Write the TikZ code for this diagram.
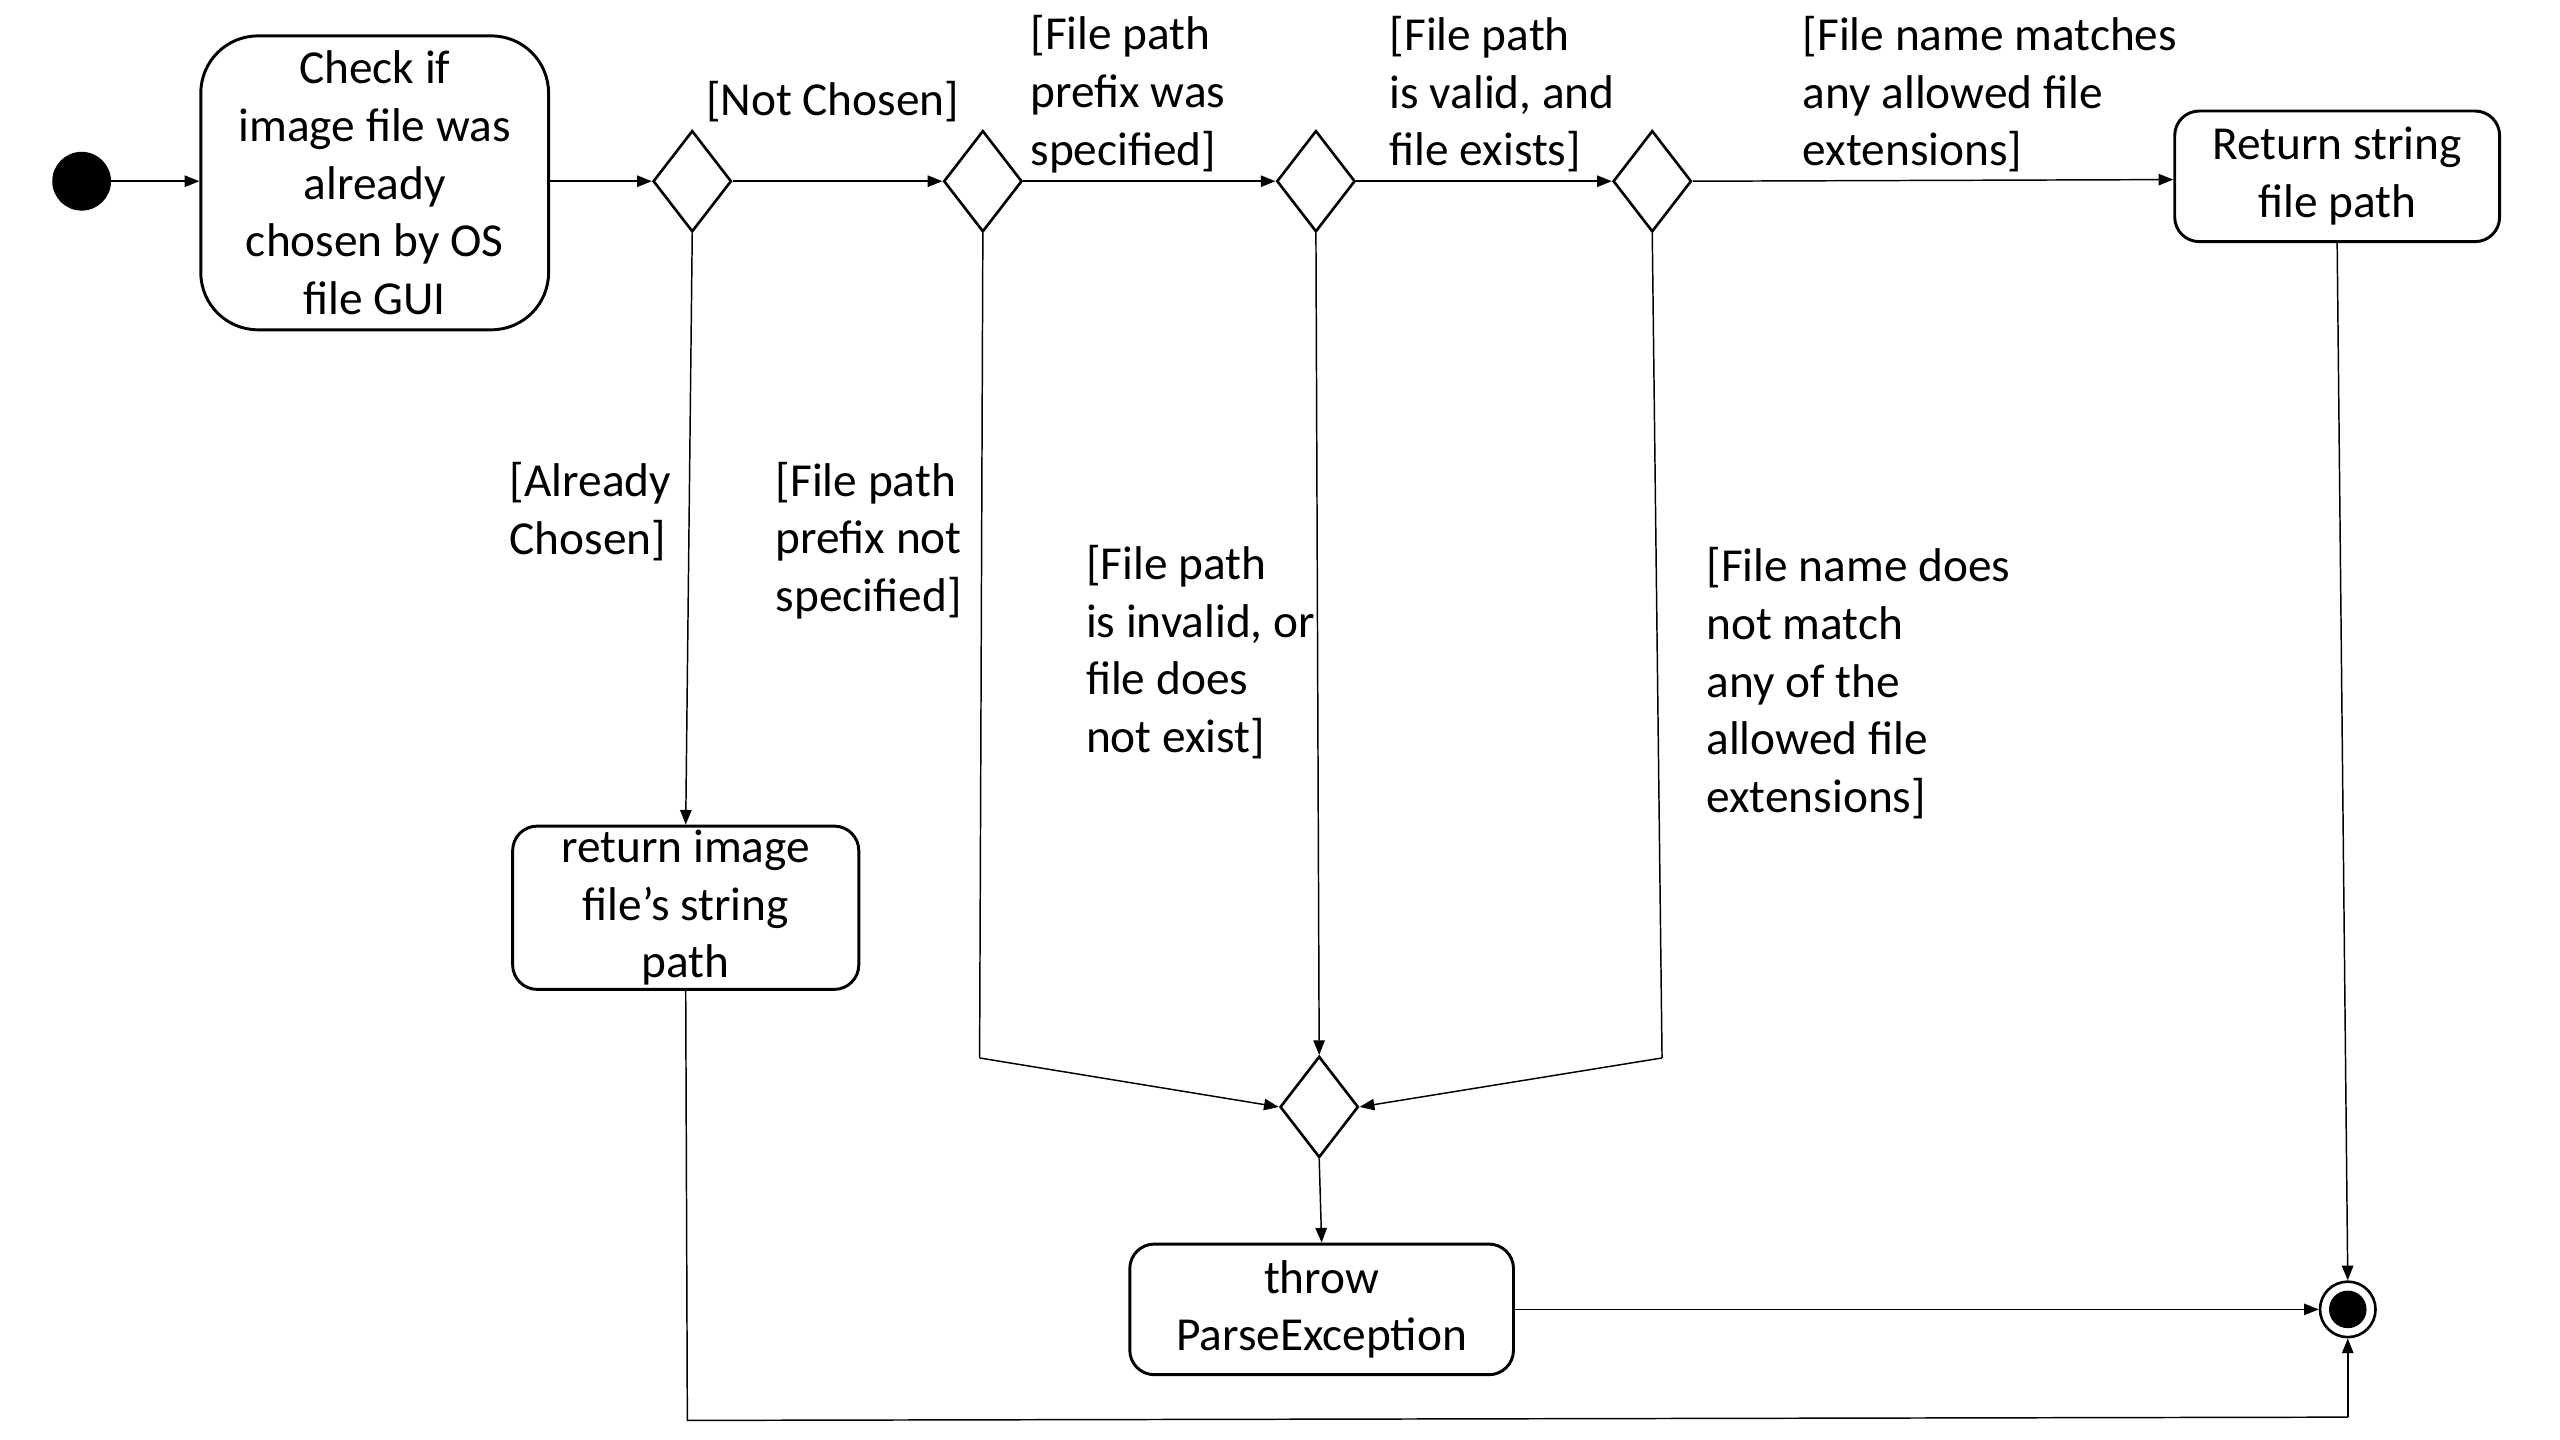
\documentclass[tikz,border=0pt]{standalone}
\usepackage{fontspec}
\setmainfont{Carlito}
\usetikzlibrary{shapes.geometric,arrows.meta}
\begin{document}
\begin{tikzpicture}[x=1pt,y=-1pt,
  every node/.style={font=\fontsize{29}{35.3}\selectfont},
  actbox/.style={draw, line width=1.8pt, rounded corners=15pt, inner sep=0pt, align=center},
  decision/.style={draw, diamond, line width=1.6pt, inner sep=0pt, minimum width=48pt, minimum height=62pt},
  guard/.style={align=left, inner sep=0pt, anchor=west, yshift=-2pt},
  flow/.style={line width=0.9pt, -{Triangle[length=9pt,width=7pt]}},
  plain/.style={line width=0.9pt}]
\useasboundingbox (0,0) rectangle (1568,882);
\node[circle, fill, minimum size=36pt, inner sep=0pt] (start) at (50,111) {};
\node[actbox, rounded corners=35pt, minimum width=213pt, minimum height=180pt] (check) at (229.5,112) {Check if\\image file was\\already\\chosen by OS\\file GUI};
\node[decision] (d1) at (424,111) {};
\node[decision] (d2) at (602,111) {};
\node[decision] (d3) at (806,111) {};
\node[decision] (d4) at (1012,111) {};
\node[actbox, minimum width=199pt, minimum height=80pt] (ret) at (1431.5,108) {Return string\\file path};
\node[actbox, minimum width=212pt, minimum height=100pt] (ret2) at (420,556) {return image\\file’s string\\path};
\node[decision] (merge) at (808,678) {};
\node[actbox, minimum width=235pt, minimum height=80pt] (throw) at (809.5,802) {throw\\ParseException};
\node[circle, draw, line width=1.6pt, minimum size=34pt, inner sep=0pt] (end) at (1438,802) {};
\fill (end.center) circle (11.5);
% guards
\node[inner sep=0pt, yshift=-2pt] (gnc) at (510,60) {[Not Chosen]};
\node[guard] (g2) at (631,55.7) {[File path\\prefix was\\specified]};
\node[guard] (g3) at (851,55.7) {[File path\\is valid, and\\file exists]};
\node[guard] (g4) at (1104,55.7) {[File name matches\\any allowed file\\extensions]};
\node[guard] (ga) at (312,311.5) {[Already\\Chosen]};
\node[guard] (gb) at (475,329) {[File path\\prefix not\\specified]};
\node[guard] (gc) at (665,397.5) {[File path\\is invalid, or\\file does\\not exist]};
\node[guard] (gd) at (1045,416.5) {[File name does\\not match\\any of the\\allowed file\\extensions]};
% coordinates
\coordinate (c2) at (600,648);
\coordinate (c4) at (1018,648);
\coordinate (b1) at (421,870);
\coordinate (b2) at (1438,868);
% flows
\draw[flow] (start.east) -- (check.west |- start.east);
\draw[flow] (check.east |- d1.west) -- (d1.west);
\draw[flow] (d1.east) -- (d2.west);
\draw[flow] (d2.east) -- (d3.west);
\draw[flow] (d3.east) -- (d4.west);
\draw[flow] (d4.east) -- (ret.west |- 0,110);
\draw[flow] (d1.south) -- (ret2.north);
\draw[plain] (d2.south) -- (c2);
\draw[flow] (c2) -- (merge.west);
\draw[flow] (d3.south) -- (merge.north);
\draw[plain] (d4.south) -- (c4);
\draw[flow] (c4) -- (merge.east);
\draw[flow] (merge.south) -- (throw.north);
\draw[flow] (throw.east |- end.west) -- (end.west);
\draw[flow] (ret.south) -- (end.north);
\draw[plain] (ret2.south) -- (b1) -- (b2);
\draw[flow] (b2) -- (end.south);
\end{tikzpicture}
\end{document}
